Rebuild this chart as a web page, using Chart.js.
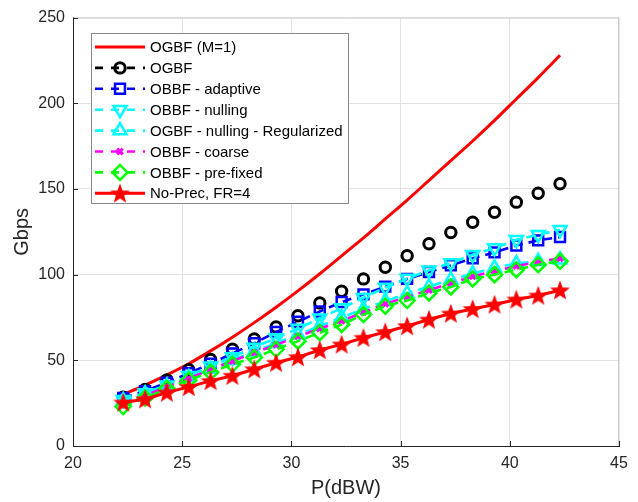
<!DOCTYPE html>
<html>
<head>
<meta charset="utf-8">
<script src="https://cdn.jsdelivr.net/npm/chart.js@4.4.0/dist/chart.umd.min.js"></script>
<style>
  html, body { margin: 0; padding: 0; background: #fff; }
  #wrap { width: 638px; height: 502px; }
</style>
</head>
<body>
<div id="wrap"><canvas id="chart" width="638" height="502"></canvas></div>
<script>
/* ── Data ─────────────────────────────────────────────────── */

const powerDbw = [22.3, 23.3, 24.3, 25.3, 26.3, 27.3, 28.3, 29.3, 30.3, 31.3, 32.3,
                  33.3, 34.3, 35.3, 36.3, 37.3, 38.3, 39.3, 40.3, 41.3, 42.3];

const ogbfM1      = [30, 35.5, 41.5, 48, 55.5, 63.5, 72, 81, 90.5, 100.5, 111,
                     121.5, 132.5, 143.5, 155, 166.5, 178, 190, 202.5, 215, 228];
const ogbf        = [28.5, 33, 38.5, 44.5, 50.5, 56.5, 62.5, 69.5, 76, 83.5, 90.3,
                     97.5, 104.3, 111, 118, 124.6, 130.6, 136.4, 142.3, 147.5, 153];
const obbfAdapt   = [28, 32, 37, 42.5, 48, 54, 60, 66.5, 72.5, 78.5, 84,
                     88.5, 93, 97.5, 101.5, 105.5, 109.5, 113, 117, 120, 122];
const obbfNull    = [27, 31, 35.5, 41, 46.5, 52, 57.5, 63, 68.5, 74.5, 80.5,
                     86.5, 92.5, 97.7, 102.5, 106.8, 111.6, 115.5, 120.3, 123.3, 126.2];
const ogbfNullReg = [26.5, 30.5, 35, 40, 45, 50, 55, 60, 65, 70, 75,
                     80, 84.5, 89, 93, 97, 100.5, 104, 106.5, 107.8, 108.7];
const obbfCoarse  = [25, 29.5, 34.5, 39.5, 44.5, 49.5, 54.5, 59, 64, 68.5, 73,
                     78, 83, 87, 91, 95, 99, 102, 105, 107.5, 109.5];
const obbfPreFix  = [23, 28, 33.5, 38.5, 43, 47.7, 51.6, 56.4, 61.2, 66.1, 70.9,
                     76.7, 81.6, 84.9, 89.3, 92.8, 97.5, 100, 102.9, 105.8, 107.8];
const noPrecFr4   = [25.4, 27.3, 31.2, 34.5, 38, 41, 44.8, 48.6, 51.9, 56, 59.3,
                     63.2, 66.5, 70, 73.8, 77.3, 80, 82.6, 85.5, 87.8, 90.9];

const xTicks = [20, 25, 30, 35, 40, 45];
const yTicks = [0, 50, 100, 150, 200, 250];

const FONT = '"Liberation Sans", Arial, Helvetica, sans-serif';
const DASH = [9, 6];

// ── Marker helpers ───────────────────────────────────────────

function makeStar(size, color) {
  var c = document.createElement('canvas');
  c.width = size;
  c.height = size;
  var g = c.getContext('2d');
  var cx = size / 2, cy = size / 2 + 0.8;
  var ro = size / 2 - 0.5, ri = ro * 0.42;
  g.beginPath();
  for (var i = 0; i < 10; i++) {
    var r = i % 2 ? ri : ro;
    var a = -Math.PI / 2 + i * Math.PI / 5;
    g.lineTo(cx + r * Math.cos(a), cy + r * Math.sin(a));
  }
  g.closePath();
  g.fillStyle = color;
  g.fill();
  return c;
}

const starImg = makeStar(22, '#ff0000');

function series(label, data, color, opts) {
  return Object.assign({
    label: label,
    data: data.map(function (v, i) { return { x: powerDbw[i], y: v }; }),
    borderColor: color,
    backgroundColor: 'rgba(0,0,0,0)',
    pointBorderColor: color,
    pointBackgroundColor: 'rgba(0,0,0,0)',
    borderWidth: 2.6,
    pointBorderWidth: 2.5,
    borderDash: DASH,
    tension: 0,
    fill: false,
  }, opts);
}

const datasets = [
  series('OGBF (M=1)', ogbfM1, '#ff0000', { borderDash: [], borderWidth: 3, pointRadius: 0, cubicInterpolationMode: 'monotone' }),
  series('OGBF', ogbf, '#000000', { showLine: false, pointStyle: 'circle', pointRadius: 5.2, pointBorderWidth: 3 }),
  series('OBBF - adaptive', obbfAdapt, '#0000ff', { pointStyle: 'rect', pointRadius: 7 }),
  series('OBBF - nulling', obbfNull, '#00ffff', { pointStyle: 'triangle', pointRotation: 180, pointRadius: 7.5 }),
  series('OGBF - nulling - Regularized', ogbfNullReg, '#00ffff', { pointStyle: 'triangle', pointRadius: 7.5 }),
  series('OBBF - coarse', obbfCoarse, '#ff00ff', { pointStyle: 'crossRot', pointRadius: 4, pointBorderWidth: 3 }),
  series('OBBF - pre-fixed', obbfPreFix, '#00ff00', { pointStyle: 'rectRot', pointRadius: 7.5 }),
  series('No-Prec, FR=4', noPrecFr4, '#ff0000', { borderDash: [], borderWidth: 3, pointStyle: starImg, pointRadius: 10 }),
];

// later datasets on top, like the original plot order
datasets.forEach(function (d, i) { d.order = 20 - i; });

// ── Plugins: axes box with inward ticks, and the legend ──────

const boxPlugin = {
  id: 'box',
  beforeDatasetsDraw: function (chart) {
    var a = chart.chartArea, ctx = chart.ctx;
    var sx = chart.scales.x, sy = chart.scales.y;
    ctx.save();
    ctx.lineWidth = 1;
    ctx.strokeStyle = '#cccccc';
    ctx.beginPath();
    ctx.moveTo(a.left, a.top + 0.5);
    ctx.lineTo(a.right - 0.5, a.top + 0.5);
    ctx.lineTo(a.right - 0.5, a.bottom);
    ctx.stroke();
    ctx.strokeStyle = '#262626';
    ctx.beginPath();
    xTicks.forEach(function (t) {
      var px = Math.round(sx.getPixelForValue(t)) + 0.5;
      ctx.moveTo(px, a.bottom);
      ctx.lineTo(px, a.bottom - 5);
    });
    yTicks.forEach(function (t) {
      var py = Math.round(sy.getPixelForValue(t)) + 0.5;
      ctx.moveTo(a.left, py);
      ctx.lineTo(a.left + 5, py);
    });
    ctx.stroke();
    ctx.restore();
  },
};

const legendPlugin = {
  id: 'matlabLegend',
  afterDraw: function (chart) {
    var ctx = chart.ctx;
    var left = 91, top = 33, w = 257, h = 170;
    var rowY = 47, rowH = 20.9;
    ctx.save();
    ctx.fillStyle = '#ffffff';
    ctx.fillRect(left, top, w, h);
    ctx.strokeStyle = '#8a8a8a';
    ctx.lineWidth = 1;
    ctx.strokeRect(left + 0.5, top + 0.5, w, h);

    chart.data.datasets.forEach(function (d, i) {
      var y = rowY + i * rowH;
      ctx.strokeStyle = d.borderColor;
      ctx.lineWidth = d.borderWidth;
      ctx.setLineDash(d.borderDash && d.borderDash.length ? [8, 8] : []);
      ctx.beginPath();
      ctx.moveTo(95, y);
      ctx.lineTo(145, y);
      ctx.stroke();
      ctx.setLineDash([]);
      if (d.pointRadius > 0) {
        ctx.strokeStyle = d.pointBorderColor;
        ctx.fillStyle = 'rgba(0,0,0,0)';
        ctx.lineWidth = d.pointBorderWidth;
        Chart.helpers.drawPoint(ctx, {
          pointStyle: d.pointStyle,
          radius: d.pointRadius,
          rotation: d.pointRotation || 0,
          borderWidth: d.pointBorderWidth,
        }, 120, y);
      }
      ctx.fillStyle = '#000000';
      ctx.font = '15px ' + FONT;
      ctx.textAlign = 'left';
      ctx.textBaseline = 'middle';
      ctx.fillText(d.label, 150, y + 1);
    });
    ctx.restore();
  },
};

// ── Chart ────────────────────────────────────────────────────

new Chart(document.getElementById('chart'), {
  type: 'line',
  data: { datasets: datasets },
  plugins: [boxPlugin, legendPlugin],
  options: {
    responsive: false,
    animation: false,
    layout: { padding: { top: 16, right: 19, bottom: 0, left: 0 } },
    plugins: { legend: { display: false }, tooltip: { enabled: false } },
    scales: {
      x: {
        type: 'linear',
        min: 20,
        max: 45,
        afterFit: function (s) { s.height = 56; },
        afterBuildTicks: function (s) { s.ticks = xTicks.map(function (v) { return { value: v }; }); },
        ticks: { color: '#262626', font: { family: FONT, size: 16 }, padding: 8 },
        grid: { color: '#e3e3e3', drawTicks: false },
        border: { color: '#262626', width: 1 },
        title: { display: true, text: 'P(dBW)', color: '#262626', font: { family: FONT, size: 20 }, padding: { top: 0, bottom: 2 } },
      },
      y: {
        min: 0,
        max: 250,
        afterFit: function (s) { s.width = 73; },
        afterBuildTicks: function (s) { s.ticks = yTicks.map(function (v) { return { value: v }; }); },
        ticks: { color: '#262626', font: { family: FONT, size: 16 }, padding: 8 },
        grid: { color: '#e3e3e3', drawTicks: false },
        border: { color: '#262626', width: 1 },
        title: { display: true, text: 'Gbps', color: '#262626', font: { family: FONT, size: 20 }, padding: { top: 10, bottom: 0 } },
      },
    },
  },
});
</script>
</body>
</html>
